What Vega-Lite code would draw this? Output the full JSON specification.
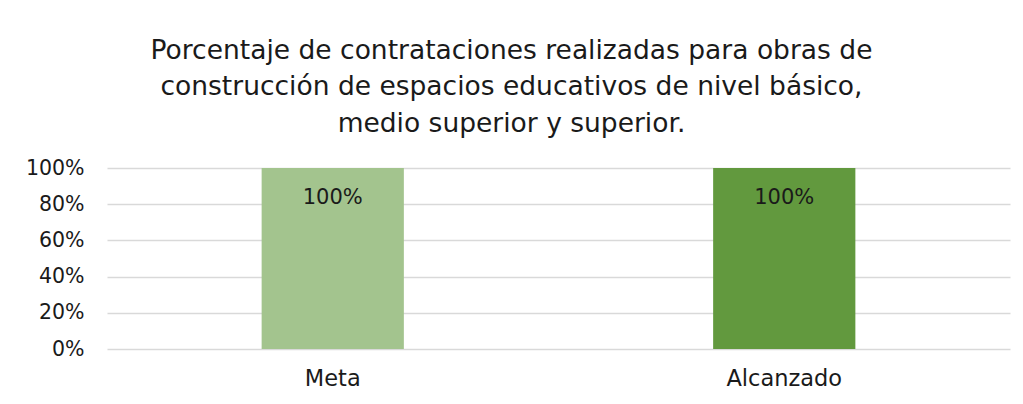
{
  "$schema": "https://vega.github.io/schema/vega-lite/v6.json",
  "width": 903,
  "height": 181,
  "autosize": "none",
  "padding": {"left": 107, "top": 168, "right": 13, "bottom": 55},
  "background": "white",
  "config": {
    "font": "DejaVu Sans",
    "view": {"stroke": null}
  },
  "title": {
    "text": ["Porcentaje de contrataciones realizadas para obras de", "construcción de espacios educativos de nivel básico,", "medio superior y superior."],
    "fontSize": 26.5,
    "fontWeight": "normal",
    "color": "#1a1a1a",
    "lineHeight": 36.5,
    "anchor": "middle",
    "dx": -47,
    "offset": 21
  },
  "data": {
    "values": [
      {"categoria": "Meta", "valor": 1},
      {"categoria": "Alcanzado", "valor": 1}
    ]
  },
  "encoding": {
    "x": {
      "field": "categoria",
      "type": "nominal",
      "sort": ["Meta", "Alcanzado"],
      "scale": {"paddingInner": 0.685, "paddingOuter": 0.3425},
      "axis": {
        "title": null,
        "labelAngle": 0,
        "labelFontSize": 22.5,
        "labelColor": "#1a1a1a",
        "labelPadding": 18,
        "ticks": false,
        "domain": false,
        "grid": false
      }
    },
    "y": {
      "field": "valor",
      "type": "quantitative",
      "scale": {"domain": [0, 1]},
      "axis": {
        "title": null,
        "values": [0, 0.2, 0.4, 0.6, 0.8, 1],
        "format": ".0%",
        "labelFontSize": 20.5,
        "labelColor": "#1a1a1a",
        "labelPadding": 23,
        "ticks": false,
        "domain": false,
        "grid": true,
        "gridColor": "#d9d9d9",
        "gridWidth": 1.5
      }
    }
  },
  "layer": [
    {
      "mark": {"type": "bar"},
      "encoding": {
        "color": {
          "field": "categoria",
          "type": "nominal",
          "scale": {"domain": ["Meta", "Alcanzado"], "range": ["#a3c48e", "#62993e"]},
          "legend": null
        }
      }
    },
    {
      "mark": {"type": "text", "baseline": "alphabetic", "dy": 36, "fontSize": 21, "color": "#1a1a1a"},
      "encoding": {
        "text": {"field": "valor", "type": "quantitative", "format": ".0%"}
      }
    }
  ]
}
